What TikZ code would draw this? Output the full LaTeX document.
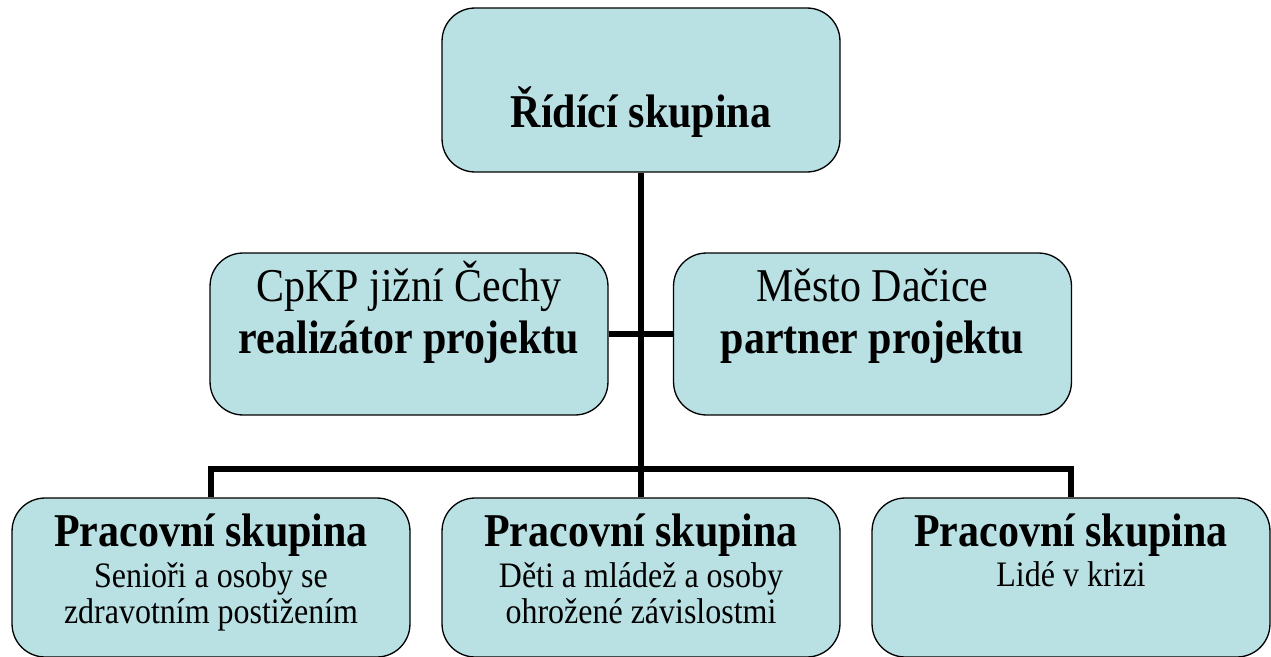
\documentclass[tikz,border=0pt]{standalone}
\usepackage{fontspec}
\setmainfont{Liberation Serif}
\usetikzlibrary{positioning}

\definecolor{boxfill}{RGB}{185,224,227}
\newcommand{\tallTxt}[1]{\scalebox{1}[1.12]{#1}}

\begin{document}
\begin{tikzpicture}[
  x=0.02cm, y=-0.02cm,
  box/.style={draw, fill=boxfill, line width=0.75pt, rounded corners=0.66cm,
              minimum width=7.96cm, inner sep=0pt},
  conn/.style={line width=3.4pt},
  big_txt/.style={font=\fontsize{23.9}{27}\selectfont, inner sep=0pt, anchor=base},
  bold_txt/.style={big_txt, font=\fontsize{23.9}{27}\selectfont\bfseries},
  small_txt/.style={font=\fontsize{18.2}{21}\selectfont, inner sep=0pt, anchor=base}
]
\useasboundingbox (0,0) rectangle (1271,656);

% --- Spojnice ---
\coordinate (bus) at (641,469);

% --- Vedení ---
\node[box, minimum height=3.28cm] (rid) at (641,90) {};
\node[bold_txt] (rid_t) at (641,127) {\tallTxt{Řídící skupina}};

% --- Realizátor a partner ---
\node[box, minimum height=3.24cm] (cpkp)   at (409,334) {};
\node[box, minimum height=3.24cm] (dacice) at (872.5,334) {};
\node[big_txt]  (cpkp_t1)   at (409,301) {\tallTxt{CpKP jižní Čechy}};
\node[bold_txt] (cpkp_t2)   at (409,353) {\tallTxt{realizátor projektu}};
\node[big_txt]  (dacice_t1) at (872.5,301) {\tallTxt{Město Dačice}};
\node[bold_txt] (dacice_t2) at (872.5,353) {\tallTxt{partner projektu}};

% --- Pracovní skupiny ---
\node[box, minimum height=3.18cm] (prac1) at (211,577.5) {};
\node[box, minimum height=3.18cm] (prac2) at (641,577.5) {};
\node[box, minimum height=3.18cm] (prac3) at (1071,577.5) {};

\node[bold_txt]  (prac1_h)  at (211,546) {\tallTxt{Pracovní skupina}};
\node[small_txt] (prac1_t1) at (211,587) {\tallTxt{Senioři a osoby se}};
\node[small_txt] (prac1_t2) at (211,623) {\tallTxt{zdravotním postižením}};

\node[bold_txt]  (prac2_h)  at (641,546) {\tallTxt{Pracovní skupina}};
\node[small_txt] (prac2_t1) at (641,587) {\tallTxt{Děti a mládež a osoby}};
\node[small_txt] (prac2_t2) at (641,623) {\tallTxt{ohrožené závislostmi}};

\node[bold_txt]  (prac3_h)  at (1071,546) {\tallTxt{Pracovní skupina}};
\node[small_txt] (prac3_t1) at (1071,586) {\tallTxt{Lidé v krizi}};

\draw[conn] (rid.south) -- (bus);
\draw[conn] (cpkp.east) -- (dacice.west);
\draw[conn] (prac1.north) |- (bus) -| (prac3.north);
\draw[conn] (bus) -- (prac2.north);

\end{tikzpicture}
\end{document}
